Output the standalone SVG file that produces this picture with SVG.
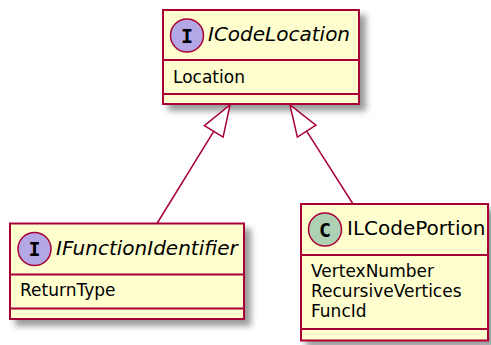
<svg xmlns="http://www.w3.org/2000/svg" width="491" height="345" viewBox="0 0 491 345">
<defs>
<filter id="shadow" x="-20%" y="-20%" width="150%" height="150%">
<feGaussianBlur in="SourceAlpha" stdDeviation="3" result="b"/>
<feColorMatrix in="b" type="matrix" values="0 0 0 0 0  0 0 0 0 0  0 0 0 0 0  0 0 0 0.4 0" result="b2"/>
<feOffset in="b2" dx="6" dy="6" result="b3"/>
<feBlend in="SourceGraphic" in2="b3" mode="normal"/>
</filter>
</defs>
<style>
.box{fill:#FEFECE;stroke:#A80036;stroke-width:2;}
.sep{stroke:#A80036;stroke-width:2;}
.title{font-family:"DejaVu Sans",sans-serif;font-size:20px;fill:#000;}
.it{font-style:italic;}
.attr{font-family:"DejaVu Sans",sans-serif;font-size:17px;fill:#000;}
.spot{stroke:#A80036;stroke-width:1.5;}
.iface{fill:#B4A7E5;}
.cls{fill:#ADD1B2;}
.letter{font-family:"DejaVu Sans Mono",monospace;font-weight:bold;font-size:20px;fill:#000;text-anchor:middle;}
.edge{fill:none;stroke:#A80036;stroke-width:1.5;}
.head{fill:#FFFFFF;stroke:#A80036;stroke-width:1.5;}
</style>
<g id="ICodeLocation">
<rect class="box" x="163" y="10" width="196" height="94" filter="url(#shadow)"/>
<circle class="spot iface" cx="187" cy="35.5" r="16.5"/>
<text class="letter" x="187" y="42.5">I</text>
<text class="title it" x="208" y="40.5">ICodeLocation</text>
<line class="sep" x1="163" y1="60" x2="359" y2="60"/>
<text class="attr" x="173" y="82.5">Location</text>
<line class="sep" x1="163" y1="94" x2="359" y2="94"/>
</g>
<g id="IFunctionIdentifier">
<rect class="box" x="10" y="223.5" width="234" height="95.5" filter="url(#shadow)"/>
<circle class="spot iface" cx="34.5" cy="249" r="16.5"/>
<text class="letter" x="34.5" y="256">I</text>
<text class="title it" x="56" y="254.5">IFunctionIdentifier</text>
<line class="sep" x1="10" y1="274.5" x2="244" y2="274.5"/>
<text class="attr" x="20" y="296">ReturnType</text>
<line class="sep" x1="10" y1="308.5" x2="244" y2="308.5"/>
</g>
<g id="ILCodePortion">
<rect class="box" x="301" y="204" width="187" height="136.5" filter="url(#shadow)"/>
<circle class="spot cls" cx="325" cy="229.5" r="16.5"/>
<text class="letter" x="325" y="236.5">C</text>
<text class="title" x="347" y="235">ILCodePortion</text>
<line class="sep" x1="301" y1="255" x2="488" y2="255"/>
<text class="attr" x="311" y="276.5">VertexNumber</text>
<text class="attr" x="311" y="296.5">RecursiveVertices</text>
<text class="attr" x="311" y="316.5">FuncId</text>
<line class="sep" x1="301" y1="329" x2="488" y2="329"/>
</g>
<g id="connectors">
<path class="edge" d="M213.74,131.39 L157,223.5"/>
<polygon class="head" points="230,105 223.11,137.16 204.37,125.62"/>
<path class="edge" d="M306.64,131.15 L353,204"/>
<polygon class="head" points="290,105 297.36,137.06 315.92,125.24"/>
</g>
</svg>
